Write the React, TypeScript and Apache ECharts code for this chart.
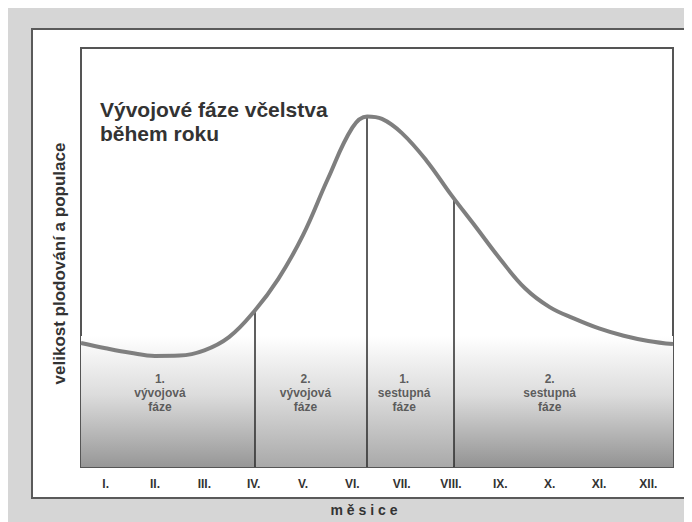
import React, { useEffect, useRef } from "react";
import * as echarts from "echarts";

const months = ["I.", "II.", "III.", "IV.", "V.", "VI.", "VII.", "VIII.", "IX.", "X.", "XI.", "XII."];
const curveX = [0, 0.5, 1, 1.5, 2, 2.5, 3, 3.5, 4, 4.5, 5, 5.5, 5.8, 6.1, 6.5, 7, 7.5, 8, 8.5, 9, 9.5, 10, 10.5, 11, 11.5, 12];
const curveY = [3.55, 3.4, 3.27, 3.18, 3.19, 3.34, 3.72, 4.44, 5.39, 6.64, 8.24, 9.72, 10.04, 9.97, 9.57, 8.78, 7.8, 6.88, 5.95, 5.12, 4.58, 4.25, 3.97, 3.76, 3.61, 3.52];
const boundaryX = [3.53, 5.8, 7.55];
const boundaryTop = [4.5, 10.04, 7.71];
const regionEdges = [0, 3.53, 5.8, 7.55, 12];
const regionBottomColors = ["#979797", "#a9a9a9", "#a9a9a9", "#939393"];
const shadeTop = 3.75;
const phaseLabels = ["1.\nvývojová\nfáze", "2.\nvývojová\nfáze", "1.\nsestupná\nfáze", "2.\nsestupná\nfáze"];
const phaseLabelX = [1.6, 4.55, 6.55, 9.5];
const phaseLabelY = [2.13, 2.13, 2.13, 2.13];
const titleText = "Vývojové fáze včelstva\nběhem roku";
const yName = "velikost plodování a populace";
const xName = "m ě s i c e";

const FONT = "'Liberation Sans', Arial, sans-serif";

export default function App() {
  const ref = useRef<HTMLDivElement>(null);
  useEffect(() => {
    if (!ref.current) return;
    const chart = echarts.init(ref.current, undefined, { renderer: "svg" });
    const grad = (bottom: string) =>
      new echarts.graphic.LinearGradient(0, 0, 0, 1, [
        { offset: 0, color: "#ffffff" },
        { offset: 0.45, color: "#dcdcdc" },
        { offset: 1, color: bottom },
      ]);
    const areas = regionBottomColors.map((c, i) => [
      { coord: [regionEdges[i], 0], itemStyle: { color: grad(c) } },
      { coord: [regionEdges[i + 1], shadeTop] },
    ]);
    chart.setOption({
      animation: false,
      textStyle: { fontFamily: FONT },
      grid: {
        left: 73,
        top: 40,
        width: 592,
        height: 423,
        show: true,
        backgroundColor: "#ffffff",
        borderColor: "#555555",
        borderWidth: 2,
        z: 1,
      },
      graphic: [
        {
          type: "rect",
          z: -10,
          shape: { x: 24, y: 21, width: 655, height: 469 },
          style: { fill: "#ffffff", stroke: "#5a5a5a", lineWidth: 2 },
        },
        {
          type: "text",
          z: 100,
          x: 92,
          y: 89,
          style: {
            text: titleText,
            font: `bold 21px ${FONT}`,
            fill: "#333333",
            lineHeight: 24,
          },
        },
      ],
      xAxis: [
        {
          type: "category",
          data: months,
          boundaryGap: true,
          axisLine: { show: false },
          axisTick: { show: false },
          axisLabel: { color: "#333333", fontSize: 12, fontWeight: "bold", margin: 11, fontFamily: FONT },
          splitLine: { show: true, lineStyle: { color: "#ececec", width: 1 } },
          name: xName,
          nameLocation: "middle",
          nameGap: 36,
          nameTextStyle: { color: "#333333", fontSize: 14, fontWeight: "bold", padding: [0, 26, 0, 0], fontFamily: FONT },
        },
        {
          type: "value",
          min: 0,
          max: 12,
          show: false,
        },
      ],
      yAxis: {
        type: "value",
        min: 0,
        max: 12,
        interval: 1,
        axisLine: { show: false },
        axisTick: { show: false },
        axisLabel: { show: false },
        splitLine: { show: true, lineStyle: { color: "#ececec", width: 1 } },
        name: yName,
        nameLocation: "middle",
        nameGap: 13,
        nameTextStyle: { color: "#333333", fontSize: 17, fontWeight: "bold", padding: [0, 12, 0, 0], fontFamily: FONT },
      },
      series: [
        {
          type: "line",
          xAxisIndex: 1,
          data: curveX.map((x, i) => [x, curveY[i]]),
          smooth: 0.4,
          showSymbol: false,
          z: 5,
          lineStyle: { color: "#7f7f7f", width: 4 },
          markArea: { silent: true, z: 1, data: areas },
          markLine: {
            silent: true,
            symbol: "none",
            label: { show: false },
            lineStyle: { color: "#2a2a2a", width: 1.5, type: "solid" },
            data: boundaryX.map((x, i) => [{ coord: [x, 0] }, { coord: [x, boundaryTop[i]] }]),
          },
        },
        {
          type: "scatter",
          xAxisIndex: 1,
          symbolSize: 0,
          z: 6,
          data: phaseLabels.map((t, i) => ({ name: t, value: [phaseLabelX[i], phaseLabelY[i]] })),
          label: {
            show: true,
            position: "inside",
            formatter: (p: any) => p.name,
            color: "#3a3a3a",
            fontSize: 12,
            fontWeight: "bold",
            lineHeight: 14,
            align: "center",
            fontFamily: FONT,
          },
        },
      ],
    });
    return () => chart.dispose();
  }, []);
  return <div ref={ref} style={{ width: 684, height: 514, background: "#d6d6d6" }} />;
}
